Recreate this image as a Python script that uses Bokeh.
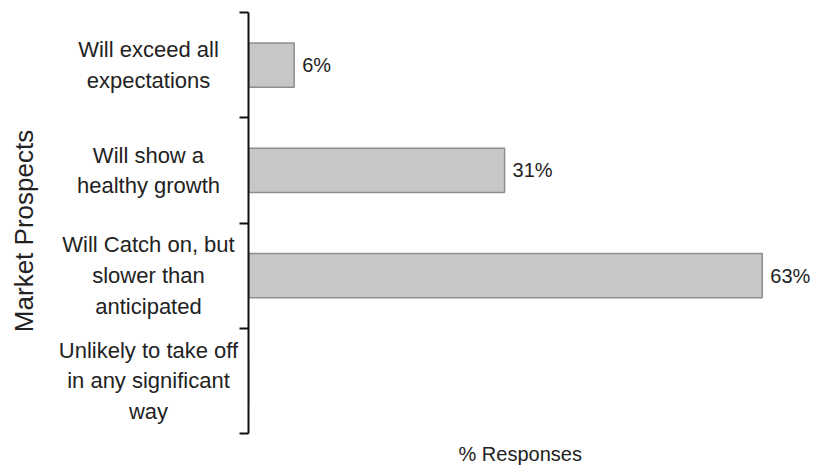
import math
from bokeh.plotting import figure
from bokeh.layouts import row
from bokeh.models import Range1d, FixedTicker, ColumnDataSource, Title
from bokeh.core.properties import value
from bokeh.embed import file_html
from bokeh.resources import INLINE

categories = [
    "Will exceed all\nexpectations",
    "Will show a\nhealthy growth",
    "Will Catch on, but\nslower than\nanticipated",
    "Unlikely to take off\nin any significant\nway",
]
values = [5.6, 31.4, 63.0, 0.0]
value_labels = ["6%", "31%", "63%", ""]
x_label = "% Responses"
y_label = "Market Prospects"

FONT = "Liberation Sans"
TXT = "#222222"
n = len(categories)
pos = [i + 0.5 for i in range(n)]

src = ColumnDataSource(dict(pos=pos, values=values, labels=value_labels, cats=categories))
y_range = Range1d(n, 0)

# ---- left panel: category labels and the y title
left = figure(width=239, height=471, output_backend="svg", toolbar_location=None,
              x_range=Range1d(0, 1), y_range=y_range,
              x_axis_location=None, y_axis_location=None,
              min_border_left=0, min_border_right=0, min_border_top=12, min_border_bottom=38)
left.outline_line_color = None
left.xgrid.visible = False
left.ygrid.visible = False
left.text(x=0, y="pos", text="cats", source=src, x_offset=148,
          text_align="center", text_baseline="middle",
          text_font=value(FONT), text_font_size="22px", text_color=TXT,
          text_line_height=1.23)
left.text(x=[0], y=[n / 2], text=[y_label], x_offset=23, y_offset=8, angle=math.pi / 2,
          text_align="center", text_baseline="middle",
          text_font=value(FONT), text_font_size="26px", text_color=TXT)

# ---- main panel: bars
p = figure(width=575, height=471, output_backend="svg", toolbar_location=None,
           x_range=Range1d(0, 69.4), y_range=y_range, x_axis_location=None,
           min_border_left=9, min_border_right=0, min_border_top=12, min_border_bottom=38)
p.outline_line_color = None
p.xgrid.visible = False
p.ygrid.visible = False

p.hbar(y="pos", left=0, right="values", height=0.42, source=src,
       fill_color="#c8c6c8", line_color="#8e8e8e", line_width=1.5)

ya = p.yaxis[0]
ya.ticker = FixedTicker(ticks=list(range(n + 1)))
ya.major_label_overrides = {i: "" for i in range(n + 1)}
ya.major_label_text_font_size = "0px"
ya.major_label_standoff = 0
ya.major_tick_in = 0
ya.major_tick_out = 9
ya.major_tick_line_width = 2
ya.major_tick_line_color = "#111111"
ya.axis_line_width = 2
ya.axis_line_color = "#111111"
ya.minor_tick_line_color = None

p.text(x="values", y="pos", text="labels", source=src, x_offset=8,
       text_align="left", text_baseline="middle",
       text_font=value(FONT), text_font_size="20px", text_color=TXT)

p.add_layout(Title(text=x_label, align="left", offset=210, standoff=14,
                   text_font=FONT, text_font_size="20px", text_font_style="normal",
                   text_color=TXT), "below")

layout = row(left, p)
open("out.html", "w").write(file_html(layout, INLINE))
